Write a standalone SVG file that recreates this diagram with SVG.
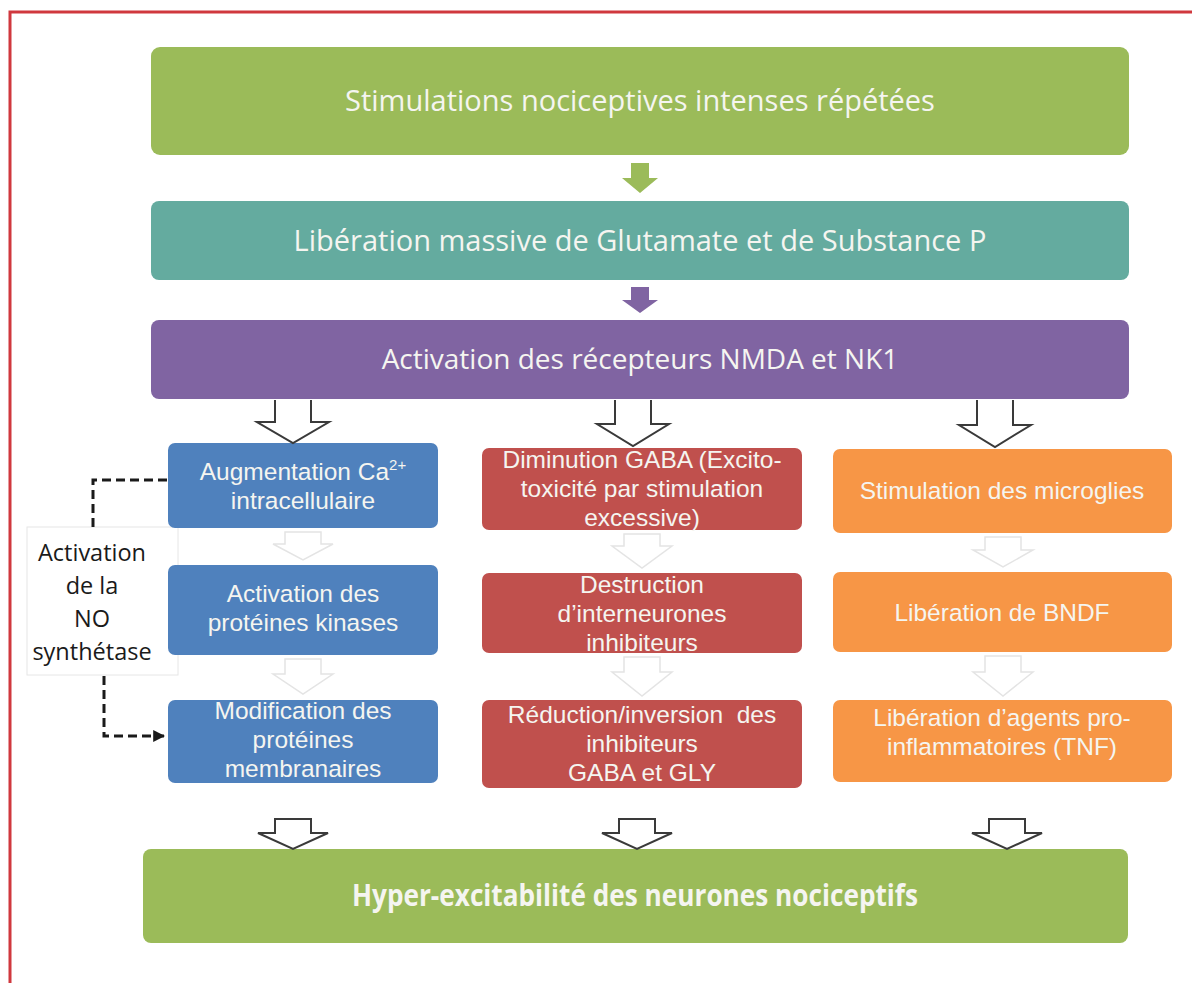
<svg xmlns="http://www.w3.org/2000/svg" width="1192" height="983" viewBox="0 0 1192 983">
<defs>
<style>
.t{font-family:"Open Sans","Liberation Sans",sans-serif;fill:#f5f5f0;text-anchor:middle}
.c{font-family:"Liberation Sans","Arial",sans-serif;fill:#f5f5f0;text-anchor:middle;font-size:24.5px}
.dk{font-family:"Open Sans","Liberation Sans",sans-serif;fill:#1a1a1a;text-anchor:middle;font-size:23.5px}
.ha{fill:#ffffff;stroke:#3a3a3a;stroke-width:2}
.fa{fill:#ffffff;stroke:#e4e4e4;stroke-width:1.5}
.dash{fill:none;stroke:#1a1a1a;stroke-width:3;stroke-dasharray:9,5}
</style>
<marker id="ah" viewBox="0 0 10 10" refX="9" refY="5" markerWidth="4" markerHeight="4" orient="auto" markerUnits="strokeWidth">
<path d="M0,0 L10,5 L0,10 z" fill="#1a1a1a"/>
</marker>
</defs>
<rect width="1192" height="983" fill="#ffffff"/>
<path d="M10,983 V12 H1192" fill="none" stroke="#d0383e" stroke-width="3"/>

<g id="no"><rect x="27" y="527" width="151" height="148" fill="#ffffff" stroke="#e6e6e6" stroke-width="1"/>
<text class="dk" x="92" y="561">Activation</text>
<text class="dk" x="92" y="594">de la</text>
<text class="dk" x="92" y="627">NO</text>
<text class="dk" x="92" y="660">synthétase</text></g>

<g id="n1"><rect x="151" y="47" width="978" height="108" rx="9" fill="#9bbb59"/>
<text class="t" font-size="29" x="640" y="111">Stimulations nociceptives intenses répétées</text></g>
<g id="n2"><rect x="151" y="201" width="978" height="79" rx="8" fill="#64ab9f"/>
<text class="t" font-size="29" x="640" y="251">Libération massive de Glutamate et de Substance P</text></g>
<g id="n3"><rect x="151" y="320" width="978" height="79" rx="8" fill="#8064a2"/>
<text class="t" font-size="28" x="640" y="369">Activation des récepteurs NMDA et NK1</text></g>

<g id="b1"><rect x="168" y="443" width="270" height="85" rx="7" fill="#4f81bd"/>
<text class="c" x="303" y="480">Augmentation Ca<tspan font-size="15" dy="-10">2+</tspan></text>
<text class="c" x="303" y="509">intracellulaire</text></g>
<g id="b2"><rect x="168" y="565" width="270" height="90" rx="7" fill="#4f81bd"/>
<text class="c" x="303" y="602">Activation des</text>
<text class="c" x="303" y="631">protéines kinases</text></g>
<g id="b3"><rect x="168" y="700" width="270" height="83" rx="7" fill="#4f81bd"/>
<text class="c" x="303" y="719">Modification des</text>
<text class="c" x="303" y="748">protéines</text>
<text class="c" x="303" y="777">membranaires</text></g>

<g id="r1"><rect x="482" y="448" width="320" height="82" rx="7" fill="#c0504d"/>
<text class="c" x="642" y="468">Diminution GABA (Excito-</text>
<text class="c" x="642" y="497">toxicité par stimulation</text>
<text class="c" x="642" y="526">excessive)</text></g>
<g id="r2"><rect x="482" y="573" width="320" height="80" rx="7" fill="#c0504d"/>
<text class="c" x="642" y="593">Destruction</text>
<text class="c" x="642" y="622">d’interneurones</text>
<text class="c" x="642" y="651">inhibiteurs</text></g>
<g id="r3"><rect x="482" y="700" width="320" height="88" rx="7" fill="#c0504d"/>
<text class="c" x="642" y="723" xml:space="preserve">Réduction/inversion  des</text>
<text class="c" x="642" y="752">inhibiteurs</text>
<text class="c" x="642" y="781">GABA et GLY</text></g>

<g id="o1"><rect x="833" y="449" width="339" height="84" rx="7" fill="#f79646"/>
<text class="c" x="1002" y="499">Stimulation des microglies</text></g>
<g id="o2"><rect x="833" y="572" width="339" height="80" rx="7" fill="#f79646"/>
<text class="c" x="1002" y="621">Libération de BNDF</text></g>
<g id="o3"><rect x="833" y="700" width="339" height="82" rx="7" fill="#f79646"/>
<text class="c" x="1002" y="726">Libération d’agents pro-</text>
<text class="c" x="1002" y="755">inflammatoires (TNF)</text></g>

<g id="n4"><rect x="143" y="849" width="985" height="94" rx="8" fill="#9bbb59"/>
<text class="t" x="635" y="906" font-size="30" font-weight="bold" textLength="566" lengthAdjust="spacingAndGlyphs">Hyper-excitabilité des neurones nociceptifs</text></g>

<g id="connectors">
<path d="M631,163 H649 V178 H658 L640,193 L622,178 H631 Z" fill="#9bbb59"/>
<path d="M631,287 H649 V300 H658 L640,313 L622,300 H631 Z" fill="#8064a2"/>
<path class="ha" d="M275,400 V422 H257 L293,443 L329,422 H311 V400"/>
<path class="ha" d="M615,400 V424 H597 L633,446 L669,424 H651 V400"/>
<path class="ha" d="M977,400 V425 H959 L995,447 L1031,425 H1013 V400"/>
<path class="fa" d="M285,532 V544 H273 L303,560 L333,544 H321 V532 Z"/>
<path class="fa" d="M285,659 V674 H273 L303,694 L333,674 H321 V659 Z"/>
<path class="fa" d="M624,534 V546 H612 L642,568 L672,546 H660 V534 Z"/>
<path class="fa" d="M624,657 V672 H612 L642,696 L672,672 H660 V657 Z"/>
<path class="fa" d="M985,537 V550 H973 L1003,567 L1033,550 H1021 V537 Z"/>
<path class="fa" d="M985,656 V672 H973 L1003,696 L1033,672 H1021 V656 Z"/>
<path class="ha" d="M275,819 V833 H258 L293,849 L328,833 H311 V819 Z"/>
<path class="ha" d="M619,819 V833 H602 L637,849 L672,833 H655 V819 Z"/>
<path class="ha" d="M989,819 V833 H972 L1007,849 L1042,833 H1025 V819 Z"/>
<path class="dash" d="M167,480 H93 V527"/>
<path class="dash" d="M104,676 V736 H164" marker-end="url(#ah)"/>
</g>
</svg>
